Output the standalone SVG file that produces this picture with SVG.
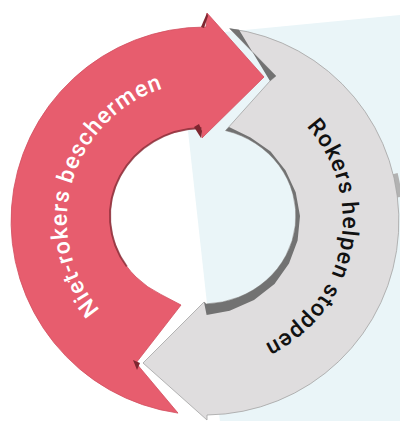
<svg xmlns="http://www.w3.org/2000/svg" xmlns:xlink="http://www.w3.org/1999/xlink" width="400" height="421" viewBox="0 0 400 421">
  <style>
    .lbl { font-family: Roboto, "Liberation Sans", sans-serif; font-weight: 500; font-size: 23px; letter-spacing: 1.1px; }
    .red { fill: #E75D6E; stroke: #D24F60; stroke-width: 0.8; }
    .gray { fill: #DFDDDE; stroke: #A3A3A3; stroke-width: 0.8; }
    .dkgray { fill: #727272; }
    .dkred { fill: #7E2630; }
  </style>
  <defs>
    <path id="redTextPath" d="M 164.65,351.97 A 138 138 0 0 1 240.72,86.7"/>
    <path id="grayTextPath" d="M 233.69,85.02 A 138 138 0 0 1 181.04,355.9"/>
  </defs>

  <g id="background">
    <polygon points="177.6,36.4 400,15 400,421 219.9,421" fill="#EAF5F8"/>
  </g>

  <g id="node-rokers-helpen-stoppen">
    <path d="M 395.2,173.6 A 196 196 0 0 1 399.5,197.1" fill="none" stroke="#B2B2B2" stroke-width="5"/>
    <path class="gray" d="M 229.65,28.6 A 194 194 0 0 1 207,415 L 207,420 L 143,363 L 204,302 L 206.2,303.9 A 93 88 0 0 0 225.5,130.6 L 270,81 L 276,76 Z"/>
    <polygon class="dkgray" points="229.65,28.6 276,76 270,81 239,29.7"/>
    <path class="dkgray" d="M 206.2,303.9 A 93 88 0 0 0 225.5,130.6 L 229,127 L 250.5,137.6 L 270.6,151.4 L 285.6,170.5 L 295.7,192.2 L 300,216 L 297.6,240.4 L 289,263.5 L 274.5,283.9 L 254,300 L 229.7,310.7 L 206.6,314.9 L 204,302 Z"/>
    <text class="lbl" fill="#111111"><textPath xlink:href="#grayTextPath" href="#grayTextPath" startOffset="50%" text-anchor="middle">Rokers helpen stoppen</textPath></text>
  </g>

  <g id="node-niet-rokers-beschermen">
    <path class="red" d="M 178,413.1 A 194 194 0 0 1 206,27 L 207,13 L 264,77 L 202,138 L 201.4,128 A 93 88 0 0 0 160.8,294.4 L 181,305 L 136,363 Z"/>
    <path d="M 201.4,128 A 93 88 0 0 0 126.8,266.5" fill="none" stroke="#7E2630" stroke-width="2" stroke-opacity="0.7"/>
    <polygon class="dkred" points="194,127 201,138 202,131 199,124"/>
    <polygon class="dkred" points="133,360 140,363 137,370"/>
    <polygon class="dkred" points="201,27 207,13 208,16 204,28"/>
    <text class="lbl" fill="#FFFFFF"><textPath xlink:href="#redTextPath" href="#redTextPath" startOffset="50%" text-anchor="middle">Niet-rokers beschermen</textPath></text>
  </g>
</svg>
